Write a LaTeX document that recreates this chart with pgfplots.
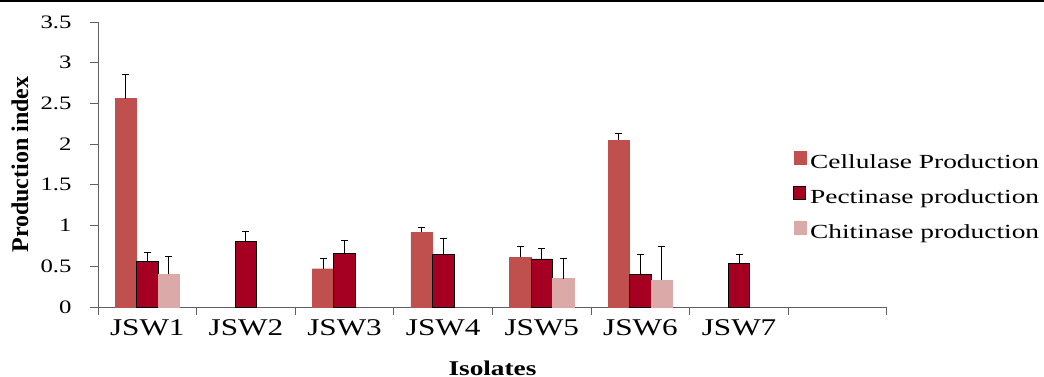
\documentclass[border=0pt]{standalone}
\usepackage{pgfplots}
\pgfplotsset{compat=1.18}
\usepackage{fontspec}
\setmainfont{Liberation Serif}
\newfontfamily\wide{Liberation Serif}[FakeStretch=1.3]
\newfontfamily\wider{Liberation Serif}[FakeStretch=1.37]
\definecolor{cell}{HTML}{C0504D}
\definecolor{pect}{HTML}{A50021}
\definecolor{chit}{HTML}{DBA9A8}
\definecolor{axgray}{HTML}{606060}
\begin{document}
\begin{tikzpicture}
\useasboundingbox (0,0) rectangle (1044pt,376pt);
\fill[black] (0,374pt) rectangle (1044pt,376pt);
\begin{axis}[
  at={(98pt,69pt)}, anchor=south west,
  scale only axis, width=789pt, height=285pt,
  xmin=-0.5, xmax=7.5, ymin=0, ymax=3.5,
  axis x line*=bottom, axis y line*=left,
  axis line style={axgray, line width=1pt},
  tick style={axgray, line width=1pt},
  tick align=outside, major tick length=8pt,
  xtick={-0.5,0.5,...,7.5}, xticklabels={},
  extra x ticks={0,1,2,3,4,5,6},
  extra x tick labels={JSW1,JSW2,JSW3,JSW4,JSW5,JSW6,JSW7},
  extra x tick style={major tick length=0pt, tick style={draw=none},
     xticklabel style={font=\wide\fontsize{24}{24}\selectfont, anchor=north, yshift=-9pt}},
  ytick={0,0.5,...,3.5},
  yticklabel style={font=\wide\fontsize{19}{19}\selectfont, /pgf/number format/assume math mode=true, xshift=-15pt},
  ybar=0pt, bar width=21.5pt,
  ylabel={\bfseries Production index},
  xlabel={\wide\bfseries Isolates},
  every axis y label/.style={at={(axis description cs:-0.099,0.5)}, rotate=90, anchor=center, font=\fontsize{24}{24}\selectfont},
  every axis x label/.style={at={(axis description cs:0.5,-0.190)}, anchor=north, inner sep=0pt, font=\fontsize{21}{21}\selectfont},
  legend image code/.code={\draw[#1] (0pt,0pt) rectangle (12pt,13pt);},
  legend style={draw=none, fill=none, at={(axis description cs:0.881,0.385)}, anchor=west,
     inner sep=0pt, row sep=12pt, font=\wider\fontsize{20}{20}\selectfont,
     nodes={inner xsep=4pt, inner ysep=0pt, text height=14pt, text depth=5pt}},
  legend cell align=left,
]
\addplot[fill=cell, draw=cell, error bars/.cd, y dir=plus, y explicit, error mark=|,
  error bar style={black, line width=1pt}, error mark options={black, line width=1pt, mark size=3.5pt}]
  table[x=x, y=y, y error=e] {
x y e
0 2.56 0.30
2 0.47 0.12
3 0.92 0.055
4 0.61 0.135
5 2.05 0.085
};
\addlegendentry{Cellulase Production}
\addplot[fill=pect, draw=black, line width=0.8pt, error bars/.cd, y dir=plus, y explicit, error mark=|,
  error bar style={black, line width=1pt}, error mark options={black, line width=1pt, mark size=3.5pt}]
  table[x=x, y=y, y error=e] {
x y e
0 0.56 0.115
1 0.80 0.125
2 0.66 0.155
3 0.64 0.20
4 0.59 0.125
5 0.40 0.25
6 0.53 0.11
};
\addlegendentry{Pectinase production}
\addplot[fill=chit, draw=chit, error bars/.cd, y dir=plus, y explicit, error mark=|,
  error bar style={black, line width=1pt}, error mark options={black, line width=1pt, mark size=3.5pt}]
  table[x=x, y=y, y error=e] {
x y e
0 0.40 0.215
4 0.35 0.24
5 0.33 0.41
};
\addlegendentry{Chitinase production}
\end{axis}
\end{tikzpicture}
\end{document}
